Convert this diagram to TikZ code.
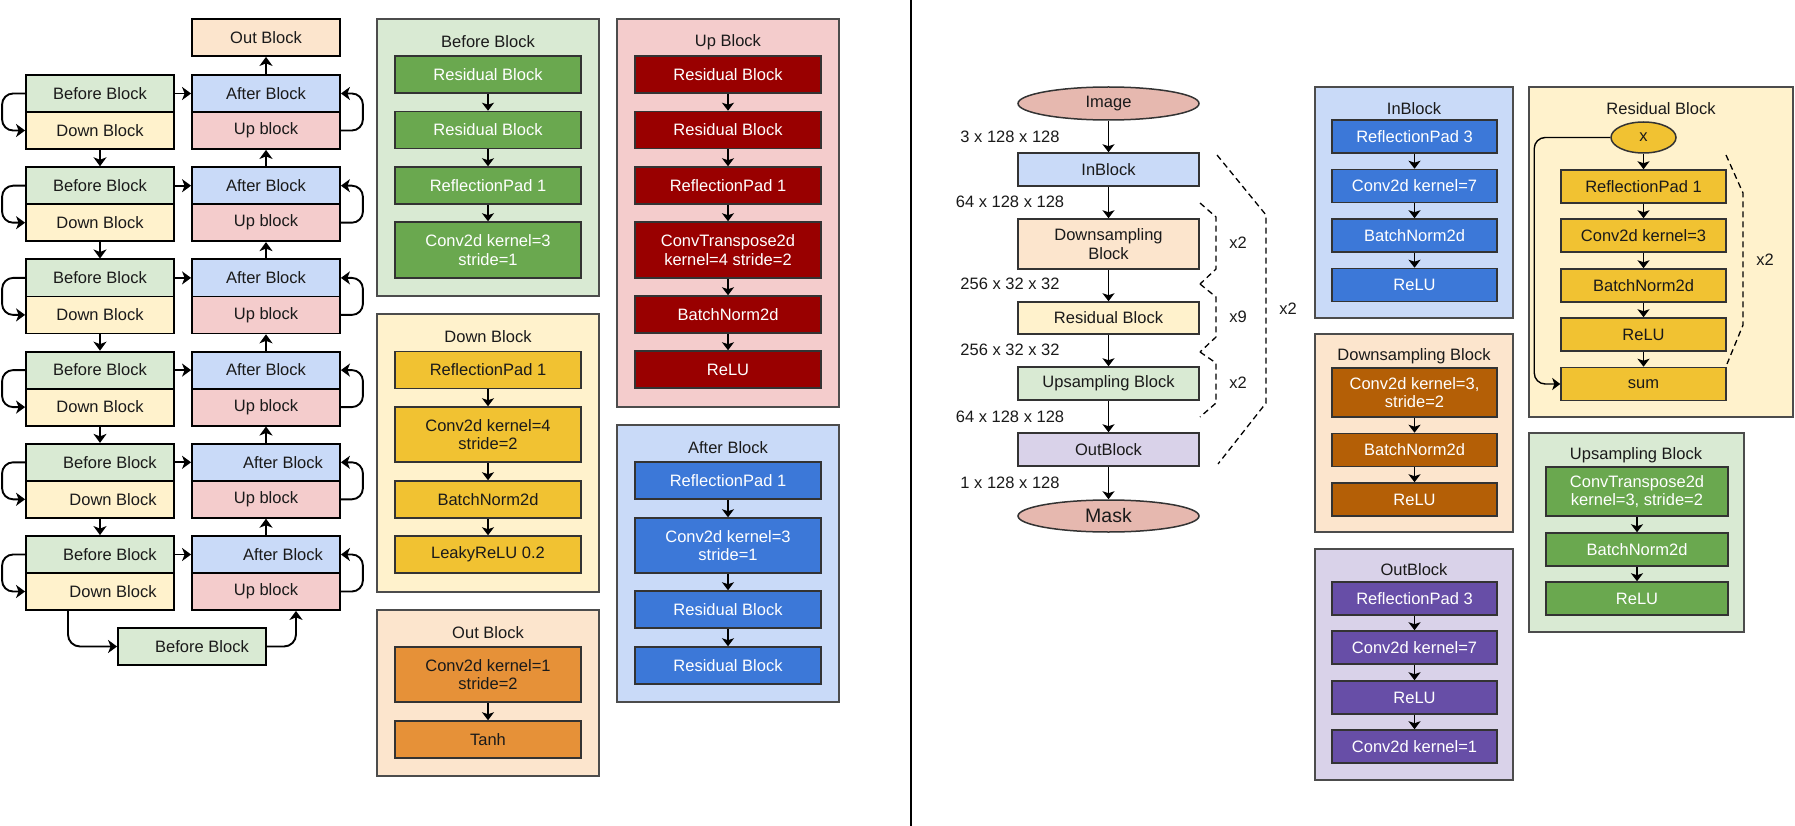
\documentclass[tikz,border=0pt]{standalone}
\usepackage{fontspec}
\setmainfont{Liberation Sans}
\usetikzlibrary{arrows.meta,shapes.geometric}
\definecolor{grnL}{HTML}{D9EAD3}
\definecolor{grnD}{HTML}{6AA84F}
\definecolor{ylwL}{HTML}{FFF2CC}
\definecolor{ylwD}{HTML}{F1C232}
\definecolor{redL}{HTML}{F4CCCC}
\definecolor{redD}{HTML}{990000}
\definecolor{bluL}{HTML}{C9DAF8}
\definecolor{bluD}{HTML}{3C78D8}
\definecolor{orgL}{HTML}{FCE5CD}
\definecolor{orgD}{HTML}{E69138}
\definecolor{brnD}{HTML}{B45F06}
\definecolor{prpL}{HTML}{D9D2E9}
\definecolor{prpD}{HTML}{674EA7}
\definecolor{pnk}{HTML}{E6B8AF}
\definecolor{edge}{HTML}{333333}
\definecolor{ink}{HTML}{1A1A1A}
\begin{document}
\begin{tikzpicture}[x=1pt,y=-1pt,
  font=\fontsize{16.5}{18.5}\selectfont,
  every node/.style={text=ink},
  lbox/.style={draw=black,line width=1.8pt,minimum width=148pt,minimum height=37pt,inner sep=0pt},
  mbox/.style={draw=edge,line width=1.5pt,minimum width=186pt,minimum height=37pt,inner sep=0pt,align=center},
  rbox/.style={draw=edge,line width=1.5pt,minimum width=165pt,minimum height=33pt,inner sep=0pt,align=center},
  fbox/.style={draw=edge,line width=1.5pt,minimum width=181pt,minimum height=33pt,inner sep=0pt,align=center},
  oval/.style={ellipse,draw=edge,line width=1.5pt,fill=pnk,minimum width=181pt,minimum height=33pt,inner sep=0pt},
  frame/.style={draw=black!70,line width=1.5pt},
  title/.style={inner sep=0pt},
  dim/.style={inner sep=0pt},
  arr/.style={-{Stealth[length=8pt,width=12pt,inset=2pt]},line width=1.4pt},
  larr/.style={-{Stealth[length=9pt,width=13pt,inset=2.5pt]},line width=1.9pt},
  brace/.style={dash pattern=on 6pt off 4pt,line width=1.3pt}]
 \useasboundingbox (0,0) rectangle (1795,826);

 % left: U-Net stack
 \foreach \i/\t/\sa/\sb/\sc in {1/75/0/0/0,2/167.2/0/0/0,3/259.4/0/0/0,4/351.6/0/0/0,5/443.8/20/26/34,6/536/20/26/34}{
   \node[lbox,fill=grnL] (lb\i) at (100,\t+18.5) {\hspace*{\sa pt}Before Block};
   \node[lbox,fill=ylwL] (ld\i) at (100,\t+55.5) {\hspace*{\sb pt}Down Block};
   \node[lbox,fill=bluL] (la\i) at (266,\t+18.5) {\hspace*{\sc pt}After Block};
   \node[lbox,fill=redL] (lu\i) at (266,\t+55.5) {Up block};
   \draw[larr,rounded corners=11pt] (lb\i.west) -- ++(-23,0) |- (ld\i.west);
   \draw[larr,rounded corners=11pt] (lu\i.east) -- ++(22,0) |- (la\i.east);
   \draw[larr] (lb\i) -- (la\i);
 }
 \foreach \i/\j in {1/2,2/3,3/4,4/5,5/6}{
   \draw[larr] (ld\i) -- (lb\j);
   \draw[larr] (la\j) -- (lu\i);
 }
 \node[lbox,fill=orgL] (lout) at (266,37.5) {Out Block};
 \node[lbox,fill=grnL] (lbot) at (192,646.5) {\hspace*{20pt}Before Block};
 \draw[larr] (la1) -- (lout);
 \draw[larr,rounded corners=12pt] ([xshift=-32pt]ld6.south) |- (lbot.west);
 \draw[larr,rounded corners=12pt] (lbot.east) -| ([xshift=30pt]lu6.south);

 % middle: what each block holds
 \draw[frame,fill=grnL] (377,19) rectangle (599,296);
 \node[title] (tbf) at (488,42) {Before Block};
 \foreach \n/\y/\h/\txt in {1/74.5/37/Residual Block,2/130/37/Residual Block,3/185.5/37/ReflectionPad 1,4/250/56/{Conv2d kernel=3\\stride=1}}
   \node[mbox,fill=grnD,text=white,minimum height=\h pt] (mb\n) at (488,\y) {\txt};
 \foreach \a/\b in {1/2,2/3,3/4} \draw[arr] (mb\a) -- (mb\b);

 \draw[frame,fill=redL] (617,19) rectangle (839,407);
 \node[title] (tup) at (728,42) {Up Block};
 \foreach \n/\y/\h/\txt in {1/74.5/37/Residual Block,2/130/37/Residual Block,3/185.5/37/ReflectionPad 1,4/250/56/{ConvTranspose2d\\kernel=4 stride=2},5/314.5/37/BatchNorm2d,6/369.5/37/ReLU}
   \node[mbox,fill=redD,text=white,minimum height=\h pt] (mu\n) at (728,\y) {\txt};
 \foreach \a/\b in {1/2,2/3,3/4,4/5,5/6} \draw[arr] (mu\a) -- (mu\b);

 \draw[frame,fill=ylwL] (377,314) rectangle (599,592);
 \node[title] (tdn) at (488,337) {Down Block};
 \foreach \n/\y/\h/\txt in {1/370/37/ReflectionPad 1,2/434.5/55/{Conv2d kernel=4\\stride=2},3/499.5/37/BatchNorm2d,4/554.5/37/LeakyReLU 0.2}
   \node[mbox,fill=ylwD,minimum height=\h pt] (md\n) at (488,\y) {\txt};
 \foreach \a/\b in {1/2,2/3,3/4} \draw[arr] (md\a) -- (md\b);

 \draw[frame,fill=orgL] (377,610) rectangle (599,776);
 \node[title] (tout) at (488,633) {Out Block};
 \node[mbox,fill=orgD,minimum height=55pt] (mo1) at (488,674.5) {Conv2d kernel=1\\stride=2};
 \node[mbox,fill=orgD] (mo2) at (488,739.5) {Tanh};
 \draw[arr] (mo1) -- (mo2);

 \draw[frame,fill=bluL] (617,425) rectangle (839,702);
 \node[title] (taf) at (728,448) {After Block};
 \foreach \n/\y/\h/\txt in {1/480.5/37/ReflectionPad 1,2/545.5/55/{Conv2d kernel=3\\stride=1},3/609.5/37/Residual Block,4/665.5/37/Residual Block}
   \node[mbox,fill=bluD,text=white,minimum height=\h pt] (ma\n) at (728,\y) {\txt};
 \foreach \a/\b in {1/2,2/3,3/4} \draw[arr] (ma\a) -- (ma\b);

 \draw[line width=1.5pt] (911,0) -- (911,826);

 % right: main flow
 \node[oval] (image) at (1108.5,103.5) {Image};
 \node[fbox,fill=bluL] (inblk) at (1108.5,169.5) {InBlock};
 \node[fbox,fill=orgL,minimum height=50pt] (dsblk) at (1108.5,244) {Downsampling\\Block};
 \node[fbox,fill=ylwL,minimum height=32pt] (resblk) at (1108.5,318) {Residual Block};
 \node[fbox,fill=grnL] (usblk) at (1108.5,383.5) {Upsampling Block};
 \node[fbox,fill=prpL] (outblk) at (1108.5,449.5) {OutBlock};
 \node[oval,minimum height=32pt,font=\fontsize{19.5}{22}\selectfont] (mask) at (1108.5,516) {Mask};
 \foreach \a/\b in {image/inblk,inblk/dsblk,dsblk/resblk,resblk/usblk,usblk/outblk,outblk/mask}
   \draw[arr] (\a) -- (\b);
 \foreach \n/\y/\txt in {1/137/3 x 128 x 128,2/202/64 x 128 x 128,3/284/256 x 32 x 32,4/350/256 x 32 x 32,5/417/64 x 128 x 128,6/483/1 x 128 x 128}
   \node[dim] (dm\n) at (1010,\y) {\txt};
 \draw[brace] (1200,203) -- (1216,217) -- (1216,269) -- (1200,284);
 \draw[brace] (1200,284) -- (1216,297) -- (1216,337) -- (1200,352);
 \draw[brace] (1200,352) -- (1216,363) -- (1216,403) -- (1200,417);
 \draw[brace] (1217,155) -- (1266,215) -- (1266,403) -- (1218,464);
 \node[dim] (rp1) at (1238,243) {x2};
 \node[dim] (rp2) at (1238,317) {x9};
 \node[dim] (rp3) at (1238,383) {x2};
 \node[dim] (rp4) at (1288,309) {x2};

 % right: block contents
 \draw[frame,fill=bluL] (1315,87) rectangle (1513,318);
 \node[title] (tin) at (1414,109) {InBlock};
 \foreach \n/\y/\txt in {1/136.5/ReflectionPad 3,2/186/Conv2d kernel=7,3/235.5/BatchNorm2d,4/285/ReLU}
   \node[rbox,fill=bluD,text=white] (in\n) at (1414.5,\y) {\txt};
 \foreach \a/\b in {1/2,2/3,3/4} \draw[arr] (in\a) -- (in\b);

 \draw[frame,fill=orgL] (1315,334) rectangle (1513,532);
 \node[title] (tds) at (1414,356) {Downsampling Block};
 \node[rbox,fill=brnD,text=white,minimum height=49pt] (ds1) at (1414.5,392.5) {Conv2d kernel=3,\\stride=2};
 \node[rbox,fill=brnD,text=white] (ds2) at (1414.5,450) {BatchNorm2d};
 \node[rbox,fill=brnD,text=white] (ds3) at (1414.5,499.5) {ReLU};
 \foreach \a/\b in {1/2,2/3} \draw[arr] (ds\a) -- (ds\b);

 \draw[frame,fill=prpL] (1315,549) rectangle (1513,780);
 \node[title] (tob) at (1414,570) {OutBlock};
 \foreach \n/\y/\txt in {1/598.5/ReflectionPad 3,2/647.5/Conv2d kernel=7,3/697.5/ReLU,4/746.5/Conv2d kernel=1}
   \node[rbox,fill=prpD,text=white] (ob\n) at (1414.5,\y) {\txt};
 \foreach \a/\b in {1/2,2/3,3/4} \draw[arr] (ob\a) -- (ob\b);

 \draw[frame,fill=ylwL] (1529,87) rectangle (1793,417);
 \node[title] (trs) at (1661,109) {Residual Block};
 \node[oval,fill=ylwD,minimum width=65pt,minimum height=31pt] (rx) at (1643.5,137.5) {x};
 \foreach \n/\y/\txt in {1/186.5/ReflectionPad 1,2/235.5/Conv2d kernel=3,3/285.5/BatchNorm2d,4/334.5/ReLU,5/384/sum}
   \node[rbox,fill=ylwD] (rs\n) at (1643.5,\y) {\txt};
 \draw[arr] (rx) -- (rs1);
 \foreach \a/\b in {1/2,2/3,3/4,4/5} \draw[arr] (rs\a) -- (rs\b);
 \draw[arr,rounded corners=11pt] (rx.west) -- ++(-76,0) |- (rs5.west);
 \draw[brace] (1726,155) -- (1743,193) -- (1743,325) -- (1727,364);
 \node[dim] (rp5) at (1765,260) {x2};

 \draw[frame,fill=grnL] (1529,433) rectangle (1744,632);
 \node[title] (tus) at (1636,455) {Upsampling Block};
 \node[rbox,fill=grnD,text=white,minimum width=182pt,minimum height=49pt] (us1) at (1637,491.5) {ConvTranspose2d\\kernel=3, stride=2};
 \node[rbox,fill=grnD,text=white,minimum width=182pt] (us2) at (1637,549.5) {BatchNorm2d};
 \node[rbox,fill=grnD,text=white,minimum width=182pt] (us3) at (1637,598.5) {ReLU};
 \foreach \a/\b in {1/2,2/3} \draw[arr] (us\a) -- (us\b);
\end{tikzpicture}
\end{document}
